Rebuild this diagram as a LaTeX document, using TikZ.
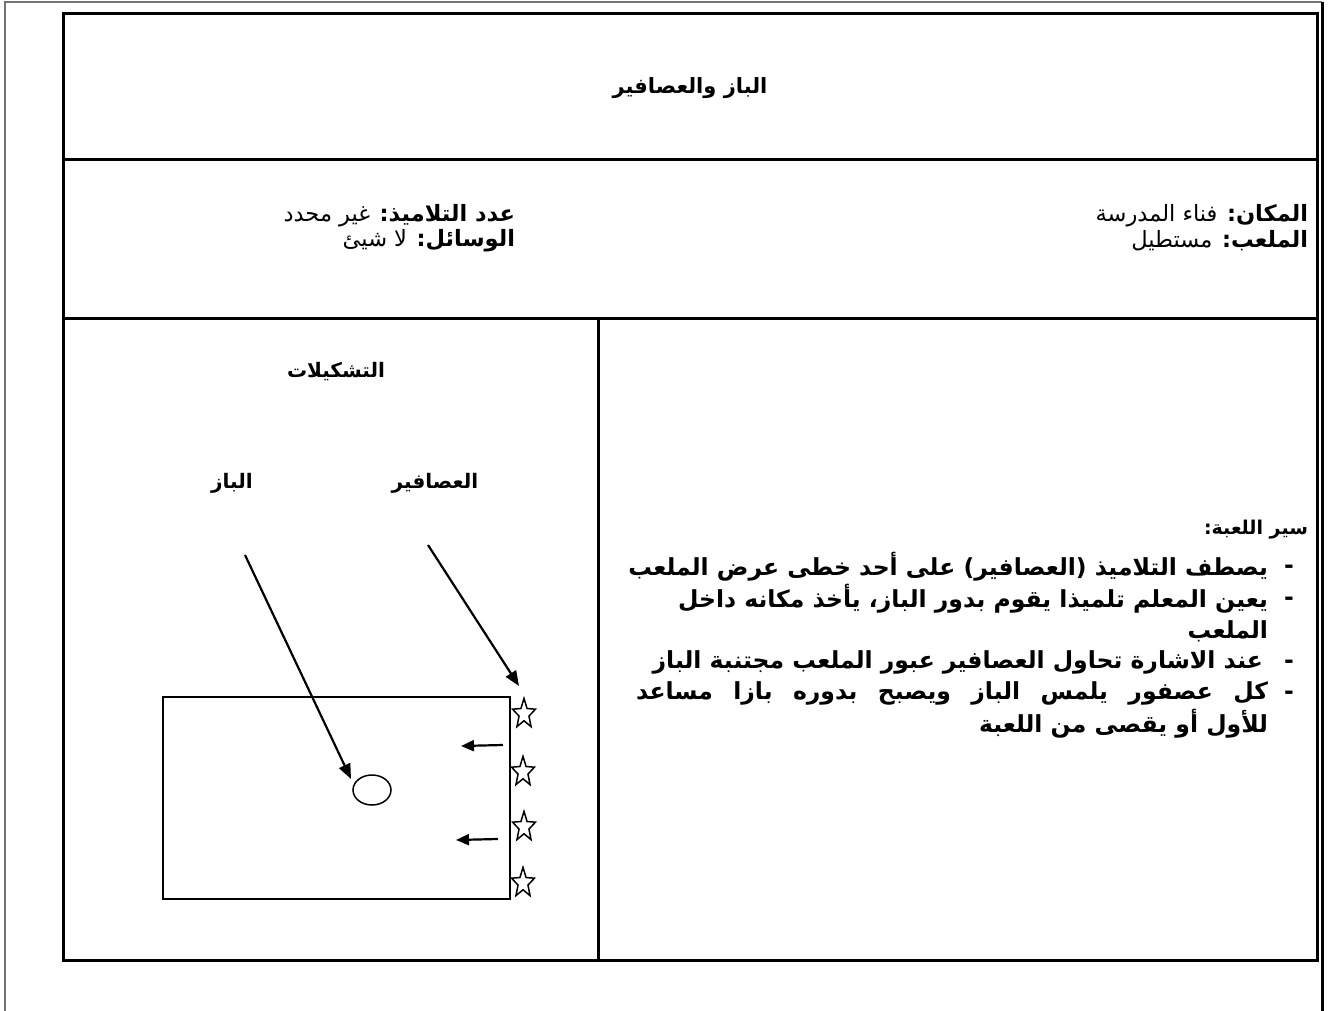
\documentclass[tikz,border=0pt]{standalone}
\usepackage{fontspec}
\usetikzlibrary{arrows.meta,shapes.geometric}
\newfontfamily\arabicfont[Script=Arabic]{DejaVu Sans}
\TeXXeTstate=1
\begin{document}
\begin{tikzpicture}[x=1pt,y=-1pt,
  tbl/.style={line width=3pt},
  frm/.style={line width=2pt, draw=black!55},
  hdr/.style={font=\arabicfont\fontsize{22.5}{26}\selectfont, inner sep=0pt, outer sep=0pt},
  ttl/.style={font=\arabicfont\bfseries\fontsize{21}{25}\selectfont, inner sep=0pt, outer sep=0pt},
  lbl/.style={font=\arabicfont\bfseries\fontsize{20}{24}\selectfont, inner sep=0pt, outer sep=0pt},
  btxt/.style={font=\arabicfont\bfseries\fontsize{23.5}{27}\selectfont, inner sep=0pt, outer sep=0pt},
  fieldbox/.style={draw, line width=1.8pt, minimum width=347pt, minimum height=202pt, inner sep=0pt, outer sep=0pt},
  ballbox/.style={ellipse, draw, line width=1.5pt, minimum width=38pt, minimum height=30pt, inner sep=0pt},
  starbox/.style={star, star points=5, star point ratio=2.3, draw, line width=1.5pt, minimum size=24pt, inner sep=0pt, yscale=1.3},
  arw/.style={line width=2.2pt, -{Triangle[length=15pt,width=12pt]}},
  sarw/.style={line width=2.2pt, -{Triangle[length=13pt,width=11pt]}}
]
\useasboundingbox (0,0) rectangle (1328,1011);
% outer frame
\draw[frm] (5,1011) -- (5,2) -- (1322,2);
\draw[line width=3pt] (1322,2) -- (1322,1011);
% table
\draw[tbl] (63,14) rectangle (1317,960);
\draw[tbl] (63,160) -- (1317,160);
\draw[tbl] (63,318) -- (1317,318);
\draw[tbl] (598,318) -- (598,960);
% title
\node[ttl] (title) at (690,88) {\beginR الباز والعصافير\endR};
% header row
\node[hdr, anchor=east] (place) at (1308,216) {\beginR\textbf{المكان:} فناء المدرسة\endR};
\node[hdr, anchor=east] (court) at (1308,241) {\beginR\textbf{الملعب:} مستطيل\endR};
\node[hdr, anchor=east] (count) at (515,216) {\beginR\textbf{عدد التلاميذ:} غير محدد\endR};
\node[hdr, anchor=east] (tools) at (515,241) {\beginR\textbf{الوسائل:} لا شيئ\endR};
% game description
\node[lbl, font=\arabicfont\bfseries\fontsize{19}{22}\selectfont, anchor=east] (howto) at (1308,530) {\beginR سير اللعبة:\endR};
\node[btxt] (d1) at (1289,569) {-};
\node[btxt] (d2) at (1289,601) {-};
\node[btxt] (d3) at (1289,664) {-};
\node[btxt] (d4) at (1289,695) {-};
\node[btxt, anchor=east] (l1) at (1268,567) {\beginR يصطف التلاميذ (العصافير) على أحد خطى عرض الملعب\endR};
\node[btxt, anchor=east] (l2) at (1268,599) {\beginR يعين المعلم تلميذا يقوم بدور الباز، يأخذ مكانه داخل\endR};
\node[btxt, anchor=east] (l2b) at (1268,631) {\beginR الملعب\endR};
\node[btxt, anchor=east] (l3) at (1263,662) {\beginR عند الاشارة تحاول العصافير عبور الملعب مجتنبة الباز\endR};
\node[btxt, anchor=east] (l4) at (1268,693) {\hbox to 632pt{\beginR كل عصفور يلمس الباز ويصبح بدوره بازا مساعد\endR}};
\node[btxt, anchor=east] (l4b) at (1268,724) {\beginR للأول أو يقصى من اللعبة\endR};
% formations
\node[lbl] (forms) at (336,372) {\beginR التشكيلات\endR};
\node[lbl] (sparrows) at (435,483) {\beginR العصافير\endR};
\node[lbl] (hawk) at (232,483) {\beginR الباز\endR};
\node[fieldbox] (field) at (336.5,798) {};
\node[ballbox] (ball) at (372,790) {};
\node[starbox] (s1) at (524,714) {};
\node[starbox] (s2) at (523,772) {};
\node[starbox] (s3) at (524,827) {};
\node[starbox] (s4) at (523,883) {};
\coordinate (hawkstart) at (245,555);
\coordinate (hawkend) at (351,779);
\coordinate (sparstart) at (428,545);
\coordinate (sparend) at (519,686);
\draw[arw] (hawkstart) -- (hawkend);
\draw[arw] (sparstart) -- (sparend);
\coordinate (a1s) at (503,745);
\coordinate (a1e) at (461,746);
\coordinate (a2s) at (498,839);
\coordinate (a2e) at (456,840);
\draw[sarw] (a1s) -- (a1e);
\draw[sarw] (a2s) -- (a2e);
\end{tikzpicture}
\end{document}
